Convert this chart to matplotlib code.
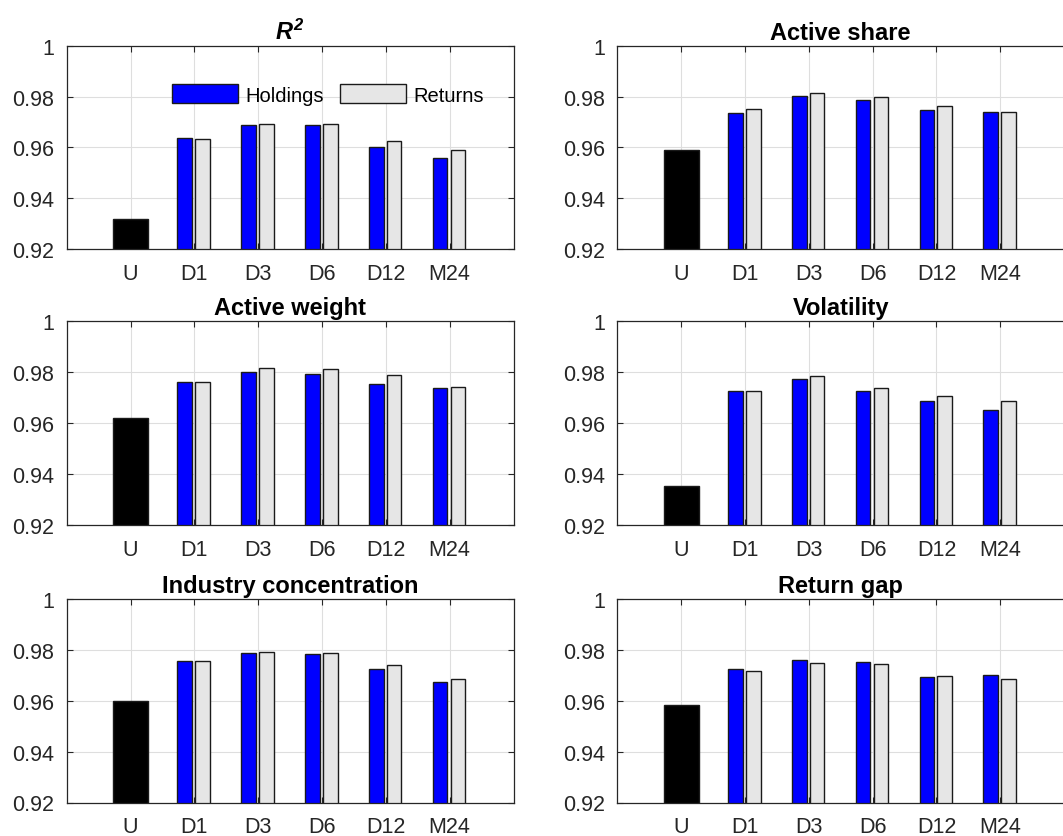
import matplotlib
matplotlib.use('Agg')
import matplotlib.pyplot as plt
import numpy as np

plt.rcParams['font.family'] = ['Liberation Sans', 'DejaVu Sans']
plt.rcParams['mathtext.fontset'] = 'custom'
plt.rcParams['mathtext.it'] = 'Liberation Sans:italic:bold'
plt.rcParams['mathtext.rm'] = 'Liberation Sans:italic:bold'

categories = ['U', 'D1', 'D3', 'D6', 'D12', 'M24']
titles = [r'$R^2$', 'Active share', 'Active weight', 'Volatility',
          'Industry concentration', 'Return gap']

# unconditional (U) value per panel
u_vals = [0.9320, 0.9591, 0.9620, 0.9352, 0.9600, 0.9584]

# D1, D3, D6, D12, M24
r2_hold = [0.9639, 0.9688, 0.9688, 0.9600, 0.9558]
r2_ret = [0.9634, 0.9693, 0.9693, 0.9624, 0.9591]
share_hold = [0.9735, 0.9804, 0.9788, 0.9746, 0.9740]
share_ret = [0.9752, 0.9814, 0.9799, 0.9762, 0.9740]
weight_hold = [0.9762, 0.9800, 0.9791, 0.9754, 0.9739]
weight_ret = [0.9762, 0.9817, 0.9812, 0.9790, 0.9743]
vol_hold = [0.9725, 0.9775, 0.9725, 0.9688, 0.9650]
vol_ret = [0.9725, 0.9784, 0.9737, 0.9705, 0.9688]
ind_hold = [0.9756, 0.9786, 0.9782, 0.9724, 0.9675]
ind_ret = [0.9756, 0.9792, 0.9787, 0.9739, 0.9686]
gap_hold = [0.9724, 0.9761, 0.9754, 0.9692, 0.9702]
gap_ret = [0.9716, 0.9749, 0.9744, 0.9697, 0.9686]

holdings = [r2_hold, share_hold, weight_hold, vol_hold, ind_hold, gap_hold]
returns = [r2_ret, share_ret, weight_ret, vol_ret, ind_ret, gap_ret]

yticks = [0.92, 0.94, 0.96, 0.98, 1.0]
ytick_labels = ['0.92', '0.94', '0.96', '0.98', '1']

W, H = 1063, 837
fig = plt.figure(figsize=(W / 100, H / 100), dpi=100)

col_left = [66.7, 617.3]
ax_w = 446.8
row_top = [46.7, 322.3, 600.0]
ax_h = 203.5

dark = '#262626'
edge = '#1a1a1a'
x = np.arange(1, 6 + 1)

for i in range(6):
    r, c = divmod(i, 2)
    ax = fig.add_axes([col_left[c] / W, 1 - (row_top[r] + ax_h) / H, ax_w / W, ax_h / H])
    ax.set_axisbelow(True)
    ax.grid(True, color='#dedede', linewidth=0.8)

    ax.bar(x[0], u_vals[i], width=0.55, color='black', edgecolor=edge, linewidth=1.0)
    hb = ax.bar(x[1:] - 0.15, holdings[i], width=0.23, color='#0000ff',
                edgecolor=edge, linewidth=1.0, label='Holdings')
    rb = ax.bar(x[1:] + 0.13, returns[i], width=0.23, color='#e6e6e6',
                edgecolor=edge, linewidth=1.0, label='Returns')

    ax.set_xlim(0, 7)
    ax.set_ylim(0.92, 1.0)
    ax.set_xticks(x)
    ax.set_xticklabels(categories)
    ax.set_yticks(yticks)
    ax.set_yticklabels(ytick_labels)
    ax.tick_params(direction='in', top=True, right=True, length=4, width=0.8,
                   color=dark, labelcolor=dark, labelsize=15.5)
    ax.tick_params(axis='x', pad=10)
    ax.tick_params(axis='y', pad=9)
    for s in ax.spines.values():
        s.set_color(dark)
        s.set_linewidth(0.9)
    if c == 1:
        # right edge of the right-hand panels falls off the picture
        ax.spines['right'].set_visible(False)
        ax.tick_params(right=False)

    ax.set_title(titles[i], fontsize=17, fontweight='bold', pad=5)

    if i == 0:
        ax.legend(handles=[hb, rb], ncol=2, frameon=False, fontsize=14.5,
                  loc='center left', bbox_to_anchor=(0.235, 0.76),
                  borderpad=0, borderaxespad=0, handlelength=3.3,
                  handleheight=1.05, handletextpad=0.35, columnspacing=0.8)

fig.savefig('out.png', dpi=100)
